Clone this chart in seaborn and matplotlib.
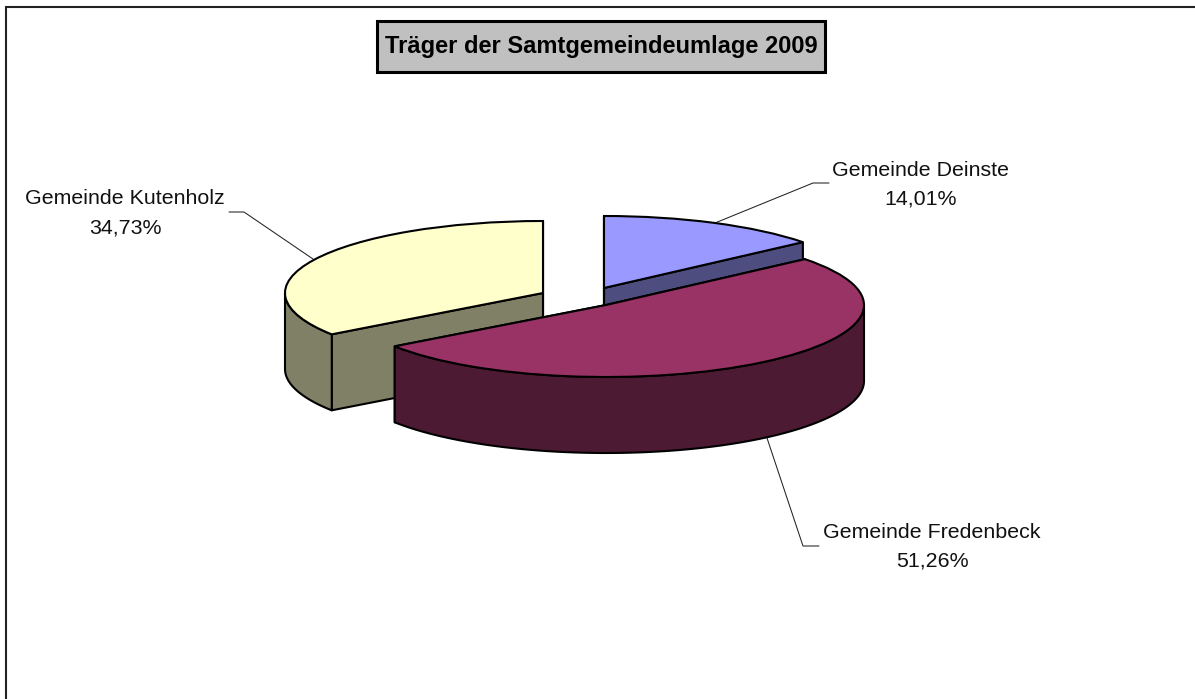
import numpy as np
import seaborn as sns
import matplotlib
matplotlib.use("Agg")
import matplotlib.pyplot as plt

names = ["Gemeinde Deinste", "Gemeinde Fredenbeck", "Gemeinde Kutenholz"]
shares = [14.01, 51.26, 34.73]
share_labels = ["14,01%", "51,26%", "34,73%"]
title = "Träger der Samtgemeindeumlage 2009"

top_colors = ["#9999FF", "#993366", "#FFFFCC"]
side_colors = ["#4D4D80", "#4D1A33", "#808066"]

# layout in reference pixels
W, H = 1195, 699
RX, RY = 258, 72
DEPTH = 76
centers = [(604, 288), (606, 305), (543, 293)]
label_pos = [(921, 170, 199), (932, 532, 561), (125, 199, 228)]
leaders = [
    [(715, 223), (813, 183), (829, 183)],
    [(767, 438), (803, 546), (819, 546)],
    [(313, 259), (244, 212), (229, 212)],
]
z_base = [2, 6, 2]


def px(x, y):
    """pixel position -> data position of the squashed pie axes"""
    return x / RX, -y / RY


sns.set_theme(style="white")
plt.rcParams["font.family"] = ["Liberation Sans", "DejaVu Sans"]

fig = plt.figure(figsize=(W / 100, H / 100), dpi=100)
ax = fig.add_axes([0, 0, 1, 1])

wedges, _ = ax.pie(
    shares,
    startangle=90,
    counterclock=False,
    colors=sns.color_palette(top_colors),
    wedgeprops={"edgecolor": "black", "linewidth": 1.5},
    frame=True,
)
# the pie is drawn on non-equal axes, that gives the flat perspective
ax.set_aspect("auto")
ax.set_xlim(0, W / RX)
ax.set_ylim(-H / RY, 0)
ax.set_xticks([])
ax.set_yticks([])
for spine in ax.spines.values():
    spine.set_visible(False)

depth = DEPTH / RY
for i, w in enumerate(wedges):
    cx, cy = px(*centers[i])
    w.set_center((cx, cy))
    w.set_zorder(z_base[i] + 2)

    # cut faces of the slice
    for ang in (w.theta1, w.theta2):
        ex = cx + np.cos(np.radians(ang))
        ey = cy + np.sin(np.radians(ang))
        ax.fill([cx, ex, ex, cx], [cy, ey, ey - depth, cy - depth],
                facecolor=side_colors[i], edgecolor="black", linewidth=1.5,
                joinstyle="round", zorder=z_base[i])

    # outer wall, only the front half of the rim can be seen
    a0, a1 = max(w.theta1, -180), min(w.theta2, 0)
    if a1 > a0:
        t = np.radians(np.linspace(a0, a1, 120))
        rim_x = cx + np.cos(t)
        rim_y = cy + np.sin(t)
        ax.fill(np.r_[rim_x, rim_x[::-1]], np.r_[rim_y, rim_y[::-1] - depth],
                facecolor=side_colors[i], edgecolor="black", linewidth=1.5,
                joinstyle="round", zorder=z_base[i] + 1)

for i, name in enumerate(names):
    x, y1, y2 = label_pos[i]
    ax.text(*px(x, y1), name, ha="center", va="center", fontsize=15.4, color="#111111", zorder=10)
    ax.text(*px(x, y2), share_labels[i], ha="center", va="center", fontsize=15.4, color="#111111", zorder=10)
    pts = [px(*p) for p in leaders[i]]
    ax.plot([p[0] for p in pts], [p[1] for p in pts], color="#222222", lw=0.75, zorder=1)

# chart frame, only top and left are in the picture
frame = [px(5.6, H), px(5.6, 6.5), px(W, 6.5)]
ax.plot([p[0] for p in frame], [p[1] for p in frame], color="#222222", lw=1.5,
        solid_joinstyle="miter", zorder=1)

ax.text(*px(601, 46), title, ha="center", va="center", fontsize=17, fontweight="bold", color="black", zorder=12)
box_x0, box_y0 = px(377, 72)
box_x1, box_y1 = px(825, 21)
ax.fill([box_x0, box_x1, box_x1, box_x0], [box_y0, box_y0, box_y1, box_y1],
        facecolor="#C0C0C0", edgecolor="black", linewidth=2.2, zorder=11)

fig.savefig("out.png", dpi=100, facecolor="white")
